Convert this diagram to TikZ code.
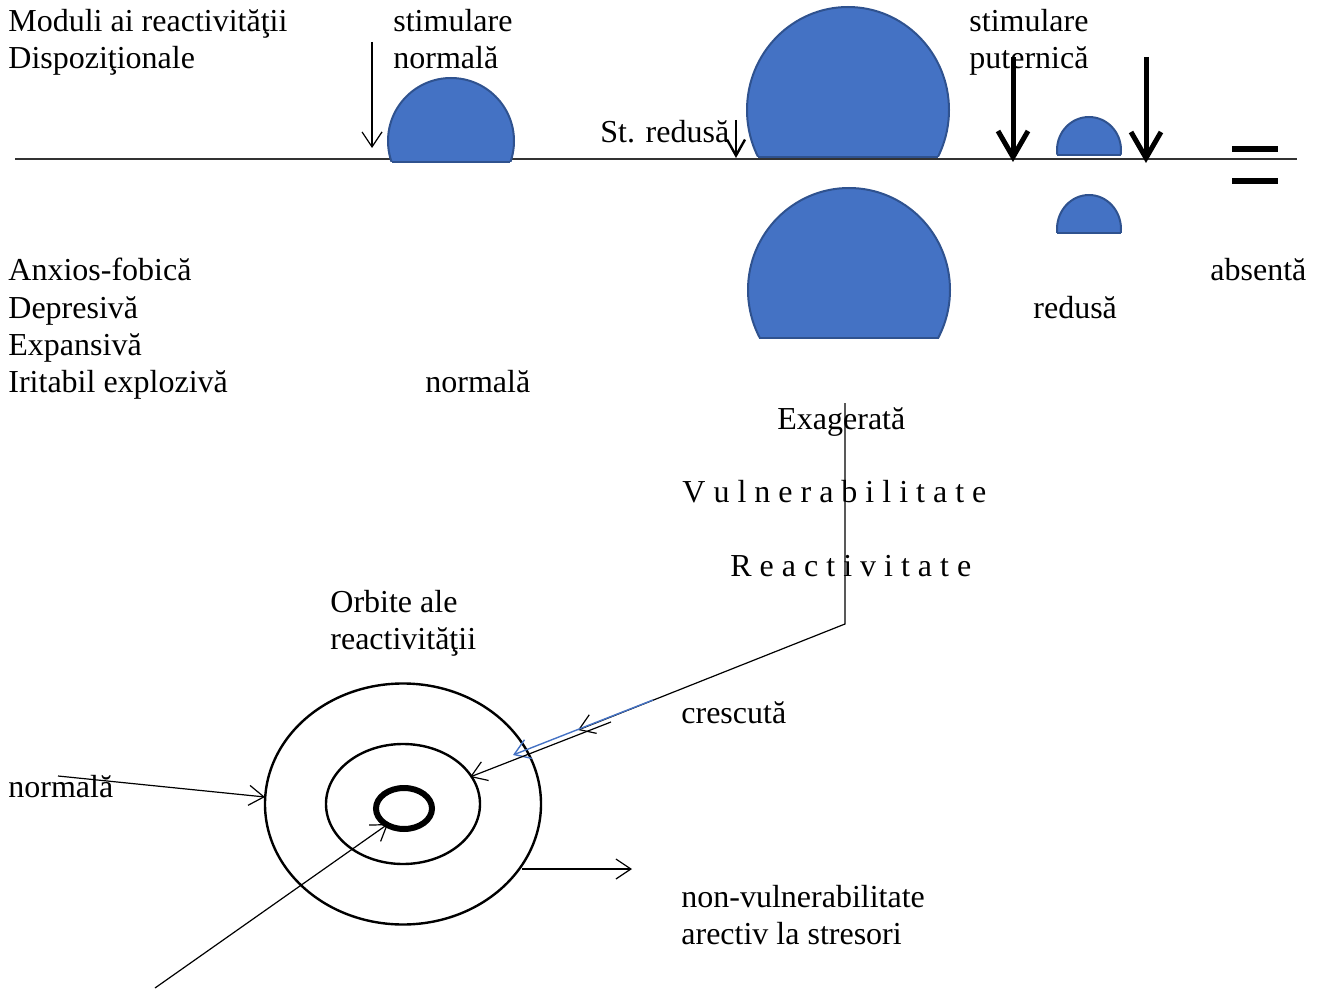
\documentclass[tikz,border=0pt]{standalone}
\usepackage{fontspec}
\setmainfont{Liberation Serif}
\usetikzlibrary{arrows.meta}
\definecolor{domeblue}{HTML}{4472C4}
\definecolor{domeedge}{HTML}{2F528F}
\tikzset{
  txt/.style={anchor=base west, inner sep=0pt, font=\fontsize{16}{19}\selectfont},
  dome/.style={fill=domeblue, draw=domeedge, line width=1pt},
  thinarrow/.style={line width=0.6pt, -{Straight Barb[length=7.5pt,width=10pt]}},
  midarrow/.style={line width=1.2pt, -{Straight Barb[length=8pt,width=9pt]}},
  bigarrow/.style={line width=2.5pt, -{Straight Barb[length=13pt,width=15pt]}},
  bluearrow/.style={draw=domeblue, line width=0.7pt, -{Straight Barb[length=7.5pt,width=10pt]}},
  ring/.style={line width=1.2pt},
}
\newcommand{\mydome}[5]{% cx cy rx ry chord
  \begin{scope}
    \clip ({#1-#3-3},#5) rectangle ({#1+#3+3},{#2-#4-3});
    \path[dome] (#1,#2) ellipse [x radius=#3, y radius=#4];
  \end{scope}
  \draw[domeedge, line width=1pt]
    ({#1-#3*sqrt(1-((#5-#2)/#4)^2)},#5) -- ({#1+#3*sqrt(1-((#5-#2)/#4)^2)},#5);
}
\begin{document}
\begin{tikzpicture}[x=0.5pt,y=-0.5pt]
\useasboundingbox (0,0) rectangle (1324,990);

% baseline
\coordinate (hl) at (15,159);
\coordinate (hr) at (1297,159);
\draw[black!80, line width=0.75pt] (hl) -- (hr);

% domes
\mydome{451}{141}{63}{63}{162}
\mydome{848}{110}{101}{103}{157}
\mydome{849}{290}{101}{102}{338}
\mydome{1089}{150}{32}{33}{155}
\mydome{1089}{229}{32}{34}{233}

% top arrows
\coordinate (a1s) at (372,42);  \coordinate (a1e) at (372,148);
\draw[thinarrow] (a1s) -- (a1e);
\coordinate (a2s) at (736,120); \coordinate (a2e) at (736,158);
\draw[midarrow] (a2s) -- (a2e);
\coordinate (a3s) at (1013,57); \coordinate (a3e) at (1013,162);
\draw[bigarrow] (a3s) -- (a3e);
\coordinate (a4s) at (1146,57); \coordinate (a4e) at (1146,163);
\draw[bigarrow] (a4s) -- (a4e);

% equal sign
\fill (1232,146) rectangle (1278,152);
\fill (1232,178) rectangle (1278,184);

% texts
\node[txt] (t1) at (8,32) {Moduli ai reactivităţii};
\node[txt] (t2) at (8,69) {Dispoziţionale};
\node[txt] (t3) at (393,32) {stimulare};
\node[txt] (t4) at (393,69) {normală};
\node[txt] (t5) at (600,143) {St. redusă};
\node[txt] (t6) at (969,32) {stimulare};
\node[txt] (t7) at (969,69) {puternică};
\node[txt] (t8) at (8,280) {Anxios-fobică};
\node[txt] (t9) at (8,318) {Depresivă};
\node[txt] (t10) at (8,355) {Expansivă};
\node[txt] (t11) at (8,392) {Iritabil explozivă};
\node[txt] (t12) at (425,392) {normală};
\node[txt] (t13) at (1210,280) {absentă};
\node[txt] (t14) at (1033,318) {redusă};
\node[txt] (t15) at (777,429) {Exagerată};
\node[txt] (t16) at (682,502) {V u l n e r a b i l i t a t e};
\node[txt] (t17) at (730,576) {R e a c t i v i t a t e};
\node[txt] (t18) at (330,612) {Orbite ale};
\node[txt] (t19) at (330,649) {reactivităţii};
\node[txt] (t20) at (681,723) {crescută};
\node[txt] (t21) at (8,797) {normală};
\node[txt] (t22) at (681,907) {non-vulnerabilitate};
\node[txt] (t23) at (681,944) {arectiv la stresori};

% orbits
\draw[ring] (403,804) ellipse [x radius=138, y radius=120.5];
\draw[ring] (403,804) ellipse [x radius=77, y radius=60];
\draw[line width=3pt] (404,808.5) ellipse [x radius=28, y radius=20.5];

% connectors
\coordinate (v1) at (845,403);
\coordinate (v2) at (845,624);
\coordinate (v3) at (578,730);
\draw[thinarrow] (v1) -- (v2) -- (v3);
\coordinate (b1) at (653,700);
\coordinate (b2) at (513,755);
\draw[bluearrow] (b1) -- (b2);
\coordinate (c1) at (611,722);
\coordinate (c2) at (470,777);
\draw[thinarrow] (c1) -- (c2);
\coordinate (n1) at (58,776);
\coordinate (n2) at (265,797);
\draw[thinarrow] (n1) -- (n2);
\coordinate (d1) at (155,988);
\coordinate (d2) at (388,824);
\draw[thinarrow] (d1) -- (d2);
\coordinate (r1) at (522,869);
\coordinate (r2) at (632,869);
\draw[thinarrow] (r1) -- (r2);
\end{tikzpicture}
\end{document}
